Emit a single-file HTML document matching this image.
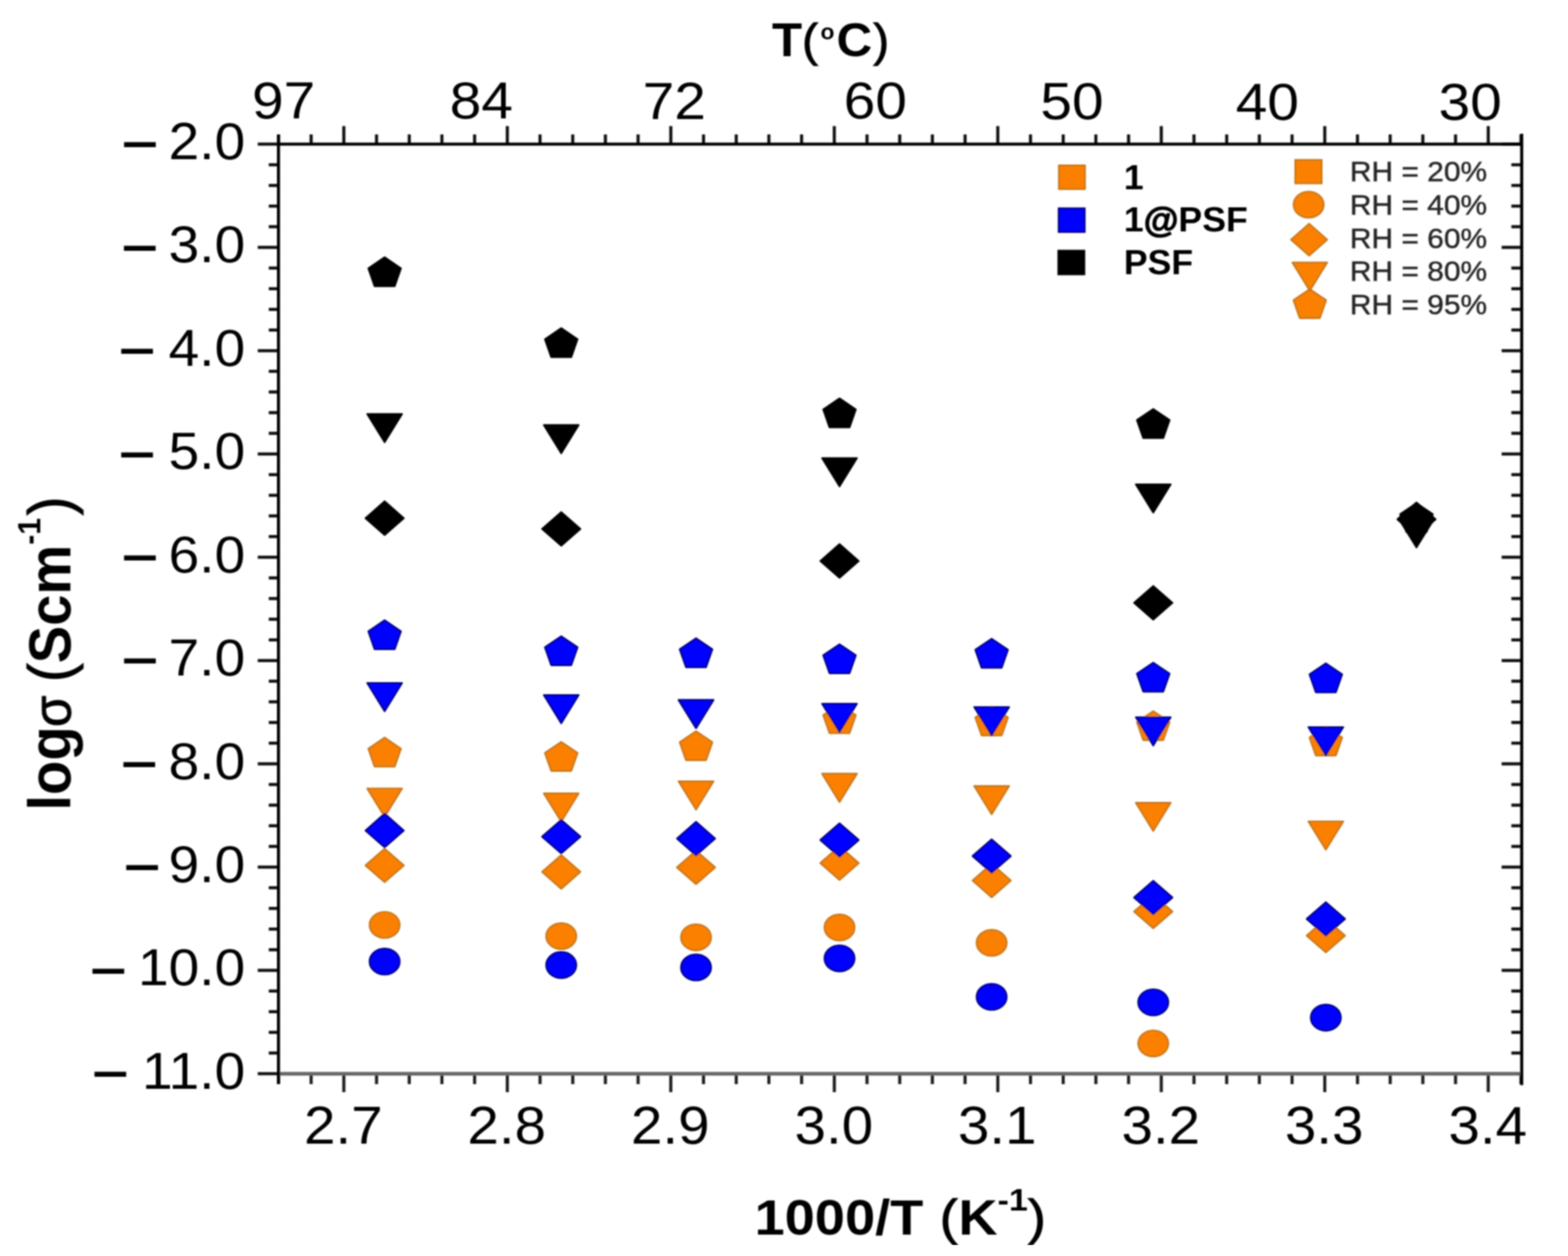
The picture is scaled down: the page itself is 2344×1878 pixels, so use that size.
<!DOCTYPE html>
<html><head><meta charset="utf-8"><title>Conductivity plot</title>
<style>html,body{margin:0;padding:0;background:#fff;width:2344px;height:1878px;overflow:hidden}svg{display:block}</style>
</head><body>
<svg width="2344" height="1878" viewBox="0 0 2344 1878">
<defs><filter id="bl" x="0" y="0" width="1" height="1"><feGaussianBlur stdDeviation="1.0"/></filter></defs>
<rect width="2344" height="1878" fill="#fff"/>
<g filter="url(#bl)">
<line x1="416.2" y1="1605.5" x2="416.2" y2="1621.0" stroke="#1a1a1a" stroke-width="4.6"/>
<line x1="416.2" y1="215.5" x2="416.2" y2="201.0" stroke="#111" stroke-width="4.6"/>
<line x1="465.1" y1="1605.5" x2="465.1" y2="1621.0" stroke="#1a1a1a" stroke-width="4.6"/>
<line x1="465.1" y1="215.5" x2="465.1" y2="201.0" stroke="#111" stroke-width="4.6"/>
<line x1="514.0" y1="1605.5" x2="514.0" y2="1633.0" stroke="#1a1a1a" stroke-width="4.6"/>
<line x1="514.0" y1="215.5" x2="514.0" y2="188.5" stroke="#111" stroke-width="4.6"/>
<line x1="562.9" y1="1605.5" x2="562.9" y2="1621.0" stroke="#1a1a1a" stroke-width="4.6"/>
<line x1="562.9" y1="215.5" x2="562.9" y2="201.0" stroke="#111" stroke-width="4.6"/>
<line x1="611.8" y1="1605.5" x2="611.8" y2="1621.0" stroke="#1a1a1a" stroke-width="4.6"/>
<line x1="611.8" y1="215.5" x2="611.8" y2="201.0" stroke="#111" stroke-width="4.6"/>
<line x1="660.6" y1="1605.5" x2="660.6" y2="1621.0" stroke="#1a1a1a" stroke-width="4.6"/>
<line x1="660.6" y1="215.5" x2="660.6" y2="201.0" stroke="#111" stroke-width="4.6"/>
<line x1="709.5" y1="1605.5" x2="709.5" y2="1621.0" stroke="#1a1a1a" stroke-width="4.6"/>
<line x1="709.5" y1="215.5" x2="709.5" y2="201.0" stroke="#111" stroke-width="4.6"/>
<line x1="758.4" y1="1605.5" x2="758.4" y2="1633.0" stroke="#1a1a1a" stroke-width="4.6"/>
<line x1="758.4" y1="215.5" x2="758.4" y2="188.5" stroke="#111" stroke-width="4.6"/>
<line x1="807.3" y1="1605.5" x2="807.3" y2="1621.0" stroke="#1a1a1a" stroke-width="4.6"/>
<line x1="807.3" y1="215.5" x2="807.3" y2="201.0" stroke="#111" stroke-width="4.6"/>
<line x1="856.2" y1="1605.5" x2="856.2" y2="1621.0" stroke="#1a1a1a" stroke-width="4.6"/>
<line x1="856.2" y1="215.5" x2="856.2" y2="201.0" stroke="#111" stroke-width="4.6"/>
<line x1="905.0" y1="1605.5" x2="905.0" y2="1621.0" stroke="#1a1a1a" stroke-width="4.6"/>
<line x1="905.0" y1="215.5" x2="905.0" y2="201.0" stroke="#111" stroke-width="4.6"/>
<line x1="953.9" y1="1605.5" x2="953.9" y2="1621.0" stroke="#1a1a1a" stroke-width="4.6"/>
<line x1="953.9" y1="215.5" x2="953.9" y2="201.0" stroke="#111" stroke-width="4.6"/>
<line x1="1002.8" y1="1605.5" x2="1002.8" y2="1633.0" stroke="#1a1a1a" stroke-width="4.6"/>
<line x1="1002.8" y1="215.5" x2="1002.8" y2="188.5" stroke="#111" stroke-width="4.6"/>
<line x1="1051.7" y1="1605.5" x2="1051.7" y2="1621.0" stroke="#1a1a1a" stroke-width="4.6"/>
<line x1="1051.7" y1="215.5" x2="1051.7" y2="201.0" stroke="#111" stroke-width="4.6"/>
<line x1="1100.6" y1="1605.5" x2="1100.6" y2="1621.0" stroke="#1a1a1a" stroke-width="4.6"/>
<line x1="1100.6" y1="215.5" x2="1100.6" y2="201.0" stroke="#111" stroke-width="4.6"/>
<line x1="1149.4" y1="1605.5" x2="1149.4" y2="1621.0" stroke="#1a1a1a" stroke-width="4.6"/>
<line x1="1149.4" y1="215.5" x2="1149.4" y2="201.0" stroke="#111" stroke-width="4.6"/>
<line x1="1198.3" y1="1605.5" x2="1198.3" y2="1621.0" stroke="#1a1a1a" stroke-width="4.6"/>
<line x1="1198.3" y1="215.5" x2="1198.3" y2="201.0" stroke="#111" stroke-width="4.6"/>
<line x1="1247.2" y1="1605.5" x2="1247.2" y2="1633.0" stroke="#1a1a1a" stroke-width="4.6"/>
<line x1="1247.2" y1="215.5" x2="1247.2" y2="188.5" stroke="#111" stroke-width="4.6"/>
<line x1="1296.1" y1="1605.5" x2="1296.1" y2="1621.0" stroke="#1a1a1a" stroke-width="4.6"/>
<line x1="1296.1" y1="215.5" x2="1296.1" y2="201.0" stroke="#111" stroke-width="4.6"/>
<line x1="1345.0" y1="1605.5" x2="1345.0" y2="1621.0" stroke="#1a1a1a" stroke-width="4.6"/>
<line x1="1345.0" y1="215.5" x2="1345.0" y2="201.0" stroke="#111" stroke-width="4.6"/>
<line x1="1393.8" y1="1605.5" x2="1393.8" y2="1621.0" stroke="#1a1a1a" stroke-width="4.6"/>
<line x1="1393.8" y1="215.5" x2="1393.8" y2="201.0" stroke="#111" stroke-width="4.6"/>
<line x1="1442.7" y1="1605.5" x2="1442.7" y2="1621.0" stroke="#1a1a1a" stroke-width="4.6"/>
<line x1="1442.7" y1="215.5" x2="1442.7" y2="201.0" stroke="#111" stroke-width="4.6"/>
<line x1="1491.6" y1="1605.5" x2="1491.6" y2="1633.0" stroke="#1a1a1a" stroke-width="4.6"/>
<line x1="1491.6" y1="215.5" x2="1491.6" y2="188.5" stroke="#111" stroke-width="4.6"/>
<line x1="1540.5" y1="1605.5" x2="1540.5" y2="1621.0" stroke="#1a1a1a" stroke-width="4.6"/>
<line x1="1540.5" y1="215.5" x2="1540.5" y2="201.0" stroke="#111" stroke-width="4.6"/>
<line x1="1589.4" y1="1605.5" x2="1589.4" y2="1621.0" stroke="#1a1a1a" stroke-width="4.6"/>
<line x1="1589.4" y1="215.5" x2="1589.4" y2="201.0" stroke="#111" stroke-width="4.6"/>
<line x1="1638.2" y1="1605.5" x2="1638.2" y2="1621.0" stroke="#1a1a1a" stroke-width="4.6"/>
<line x1="1638.2" y1="215.5" x2="1638.2" y2="201.0" stroke="#111" stroke-width="4.6"/>
<line x1="1687.1" y1="1605.5" x2="1687.1" y2="1621.0" stroke="#1a1a1a" stroke-width="4.6"/>
<line x1="1687.1" y1="215.5" x2="1687.1" y2="201.0" stroke="#111" stroke-width="4.6"/>
<line x1="1736.0" y1="1605.5" x2="1736.0" y2="1633.0" stroke="#1a1a1a" stroke-width="4.6"/>
<line x1="1736.0" y1="215.5" x2="1736.0" y2="188.5" stroke="#111" stroke-width="4.6"/>
<line x1="1784.9" y1="1605.5" x2="1784.9" y2="1621.0" stroke="#1a1a1a" stroke-width="4.6"/>
<line x1="1784.9" y1="215.5" x2="1784.9" y2="201.0" stroke="#111" stroke-width="4.6"/>
<line x1="1833.8" y1="1605.5" x2="1833.8" y2="1621.0" stroke="#1a1a1a" stroke-width="4.6"/>
<line x1="1833.8" y1="215.5" x2="1833.8" y2="201.0" stroke="#111" stroke-width="4.6"/>
<line x1="1882.6" y1="1605.5" x2="1882.6" y2="1621.0" stroke="#1a1a1a" stroke-width="4.6"/>
<line x1="1882.6" y1="215.5" x2="1882.6" y2="201.0" stroke="#111" stroke-width="4.6"/>
<line x1="1931.5" y1="1605.5" x2="1931.5" y2="1621.0" stroke="#1a1a1a" stroke-width="4.6"/>
<line x1="1931.5" y1="215.5" x2="1931.5" y2="201.0" stroke="#111" stroke-width="4.6"/>
<line x1="1980.4" y1="1605.5" x2="1980.4" y2="1633.0" stroke="#1a1a1a" stroke-width="4.6"/>
<line x1="1980.4" y1="215.5" x2="1980.4" y2="188.5" stroke="#111" stroke-width="4.6"/>
<line x1="2029.3" y1="1605.5" x2="2029.3" y2="1621.0" stroke="#1a1a1a" stroke-width="4.6"/>
<line x1="2029.3" y1="215.5" x2="2029.3" y2="201.0" stroke="#111" stroke-width="4.6"/>
<line x1="2078.2" y1="1605.5" x2="2078.2" y2="1621.0" stroke="#1a1a1a" stroke-width="4.6"/>
<line x1="2078.2" y1="215.5" x2="2078.2" y2="201.0" stroke="#111" stroke-width="4.6"/>
<line x1="2127.0" y1="1605.5" x2="2127.0" y2="1621.0" stroke="#1a1a1a" stroke-width="4.6"/>
<line x1="2127.0" y1="215.5" x2="2127.0" y2="201.0" stroke="#111" stroke-width="4.6"/>
<line x1="2175.9" y1="1605.5" x2="2175.9" y2="1621.0" stroke="#1a1a1a" stroke-width="4.6"/>
<line x1="2175.9" y1="215.5" x2="2175.9" y2="201.0" stroke="#111" stroke-width="4.6"/>
<line x1="2224.8" y1="1605.5" x2="2224.8" y2="1633.0" stroke="#1a1a1a" stroke-width="4.6"/>
<line x1="2224.8" y1="215.5" x2="2224.8" y2="188.5" stroke="#111" stroke-width="4.6"/>
<line x1="2273.7" y1="1605.5" x2="2273.7" y2="1621.0" stroke="#1a1a1a" stroke-width="4.6"/>
<line x1="2273.7" y1="215.5" x2="2273.7" y2="201.0" stroke="#111" stroke-width="4.6"/>
<line x1="416.3" y1="215.5" x2="385.3" y2="215.5" stroke="#111" stroke-width="4.6"/>
<line x1="2274.8" y1="215.5" x2="2244.8" y2="215.5" stroke="#111" stroke-width="4.6"/>
<line x1="416.3" y1="246.4" x2="401.8" y2="246.4" stroke="#111" stroke-width="4.6"/>
<line x1="2274.8" y1="246.4" x2="2259.3" y2="246.4" stroke="#111" stroke-width="4.6"/>
<line x1="416.3" y1="277.3" x2="401.8" y2="277.3" stroke="#111" stroke-width="4.6"/>
<line x1="2274.8" y1="277.3" x2="2259.3" y2="277.3" stroke="#111" stroke-width="4.6"/>
<line x1="416.3" y1="308.2" x2="401.8" y2="308.2" stroke="#111" stroke-width="4.6"/>
<line x1="2274.8" y1="308.2" x2="2259.3" y2="308.2" stroke="#111" stroke-width="4.6"/>
<line x1="416.3" y1="339.0" x2="401.8" y2="339.0" stroke="#111" stroke-width="4.6"/>
<line x1="2274.8" y1="339.0" x2="2259.3" y2="339.0" stroke="#111" stroke-width="4.6"/>
<line x1="416.3" y1="369.9" x2="385.3" y2="369.9" stroke="#111" stroke-width="4.6"/>
<line x1="2274.8" y1="369.9" x2="2244.8" y2="369.9" stroke="#111" stroke-width="4.6"/>
<line x1="416.3" y1="400.8" x2="401.8" y2="400.8" stroke="#111" stroke-width="4.6"/>
<line x1="2274.8" y1="400.8" x2="2259.3" y2="400.8" stroke="#111" stroke-width="4.6"/>
<line x1="416.3" y1="431.7" x2="401.8" y2="431.7" stroke="#111" stroke-width="4.6"/>
<line x1="2274.8" y1="431.7" x2="2259.3" y2="431.7" stroke="#111" stroke-width="4.6"/>
<line x1="416.3" y1="462.6" x2="401.8" y2="462.6" stroke="#111" stroke-width="4.6"/>
<line x1="2274.8" y1="462.6" x2="2259.3" y2="462.6" stroke="#111" stroke-width="4.6"/>
<line x1="416.3" y1="493.5" x2="401.8" y2="493.5" stroke="#111" stroke-width="4.6"/>
<line x1="2274.8" y1="493.5" x2="2259.3" y2="493.5" stroke="#111" stroke-width="4.6"/>
<line x1="416.3" y1="524.4" x2="385.3" y2="524.4" stroke="#111" stroke-width="4.6"/>
<line x1="2274.8" y1="524.4" x2="2244.8" y2="524.4" stroke="#111" stroke-width="4.6"/>
<line x1="416.3" y1="555.2" x2="401.8" y2="555.2" stroke="#111" stroke-width="4.6"/>
<line x1="2274.8" y1="555.2" x2="2259.3" y2="555.2" stroke="#111" stroke-width="4.6"/>
<line x1="416.3" y1="586.1" x2="401.8" y2="586.1" stroke="#111" stroke-width="4.6"/>
<line x1="2274.8" y1="586.1" x2="2259.3" y2="586.1" stroke="#111" stroke-width="4.6"/>
<line x1="416.3" y1="617.0" x2="401.8" y2="617.0" stroke="#111" stroke-width="4.6"/>
<line x1="2274.8" y1="617.0" x2="2259.3" y2="617.0" stroke="#111" stroke-width="4.6"/>
<line x1="416.3" y1="647.9" x2="401.8" y2="647.9" stroke="#111" stroke-width="4.6"/>
<line x1="2274.8" y1="647.9" x2="2259.3" y2="647.9" stroke="#111" stroke-width="4.6"/>
<line x1="416.3" y1="678.8" x2="385.3" y2="678.8" stroke="#111" stroke-width="4.6"/>
<line x1="2274.8" y1="678.8" x2="2244.8" y2="678.8" stroke="#111" stroke-width="4.6"/>
<line x1="416.3" y1="709.7" x2="401.8" y2="709.7" stroke="#111" stroke-width="4.6"/>
<line x1="2274.8" y1="709.7" x2="2259.3" y2="709.7" stroke="#111" stroke-width="4.6"/>
<line x1="416.3" y1="740.6" x2="401.8" y2="740.6" stroke="#111" stroke-width="4.6"/>
<line x1="2274.8" y1="740.6" x2="2259.3" y2="740.6" stroke="#111" stroke-width="4.6"/>
<line x1="416.3" y1="771.4" x2="401.8" y2="771.4" stroke="#111" stroke-width="4.6"/>
<line x1="2274.8" y1="771.4" x2="2259.3" y2="771.4" stroke="#111" stroke-width="4.6"/>
<line x1="416.3" y1="802.3" x2="401.8" y2="802.3" stroke="#111" stroke-width="4.6"/>
<line x1="2274.8" y1="802.3" x2="2259.3" y2="802.3" stroke="#111" stroke-width="4.6"/>
<line x1="416.3" y1="833.2" x2="385.3" y2="833.2" stroke="#111" stroke-width="4.6"/>
<line x1="2274.8" y1="833.2" x2="2244.8" y2="833.2" stroke="#111" stroke-width="4.6"/>
<line x1="416.3" y1="864.1" x2="401.8" y2="864.1" stroke="#111" stroke-width="4.6"/>
<line x1="2274.8" y1="864.1" x2="2259.3" y2="864.1" stroke="#111" stroke-width="4.6"/>
<line x1="416.3" y1="895.0" x2="401.8" y2="895.0" stroke="#111" stroke-width="4.6"/>
<line x1="2274.8" y1="895.0" x2="2259.3" y2="895.0" stroke="#111" stroke-width="4.6"/>
<line x1="416.3" y1="925.9" x2="401.8" y2="925.9" stroke="#111" stroke-width="4.6"/>
<line x1="2274.8" y1="925.9" x2="2259.3" y2="925.9" stroke="#111" stroke-width="4.6"/>
<line x1="416.3" y1="956.8" x2="401.8" y2="956.8" stroke="#111" stroke-width="4.6"/>
<line x1="2274.8" y1="956.8" x2="2259.3" y2="956.8" stroke="#111" stroke-width="4.6"/>
<line x1="416.3" y1="987.7" x2="385.3" y2="987.7" stroke="#111" stroke-width="4.6"/>
<line x1="2274.8" y1="987.7" x2="2244.8" y2="987.7" stroke="#111" stroke-width="4.6"/>
<line x1="416.3" y1="1018.5" x2="401.8" y2="1018.5" stroke="#111" stroke-width="4.6"/>
<line x1="2274.8" y1="1018.5" x2="2259.3" y2="1018.5" stroke="#111" stroke-width="4.6"/>
<line x1="416.3" y1="1049.4" x2="401.8" y2="1049.4" stroke="#111" stroke-width="4.6"/>
<line x1="2274.8" y1="1049.4" x2="2259.3" y2="1049.4" stroke="#111" stroke-width="4.6"/>
<line x1="416.3" y1="1080.3" x2="401.8" y2="1080.3" stroke="#111" stroke-width="4.6"/>
<line x1="2274.8" y1="1080.3" x2="2259.3" y2="1080.3" stroke="#111" stroke-width="4.6"/>
<line x1="416.3" y1="1111.2" x2="401.8" y2="1111.2" stroke="#111" stroke-width="4.6"/>
<line x1="2274.8" y1="1111.2" x2="2259.3" y2="1111.2" stroke="#111" stroke-width="4.6"/>
<line x1="416.3" y1="1142.1" x2="385.3" y2="1142.1" stroke="#111" stroke-width="4.6"/>
<line x1="2274.8" y1="1142.1" x2="2244.8" y2="1142.1" stroke="#111" stroke-width="4.6"/>
<line x1="416.3" y1="1173.0" x2="401.8" y2="1173.0" stroke="#111" stroke-width="4.6"/>
<line x1="2274.8" y1="1173.0" x2="2259.3" y2="1173.0" stroke="#111" stroke-width="4.6"/>
<line x1="416.3" y1="1203.9" x2="401.8" y2="1203.9" stroke="#111" stroke-width="4.6"/>
<line x1="2274.8" y1="1203.9" x2="2259.3" y2="1203.9" stroke="#111" stroke-width="4.6"/>
<line x1="416.3" y1="1234.7" x2="401.8" y2="1234.7" stroke="#111" stroke-width="4.6"/>
<line x1="2274.8" y1="1234.7" x2="2259.3" y2="1234.7" stroke="#111" stroke-width="4.6"/>
<line x1="416.3" y1="1265.6" x2="401.8" y2="1265.6" stroke="#111" stroke-width="4.6"/>
<line x1="2274.8" y1="1265.6" x2="2259.3" y2="1265.6" stroke="#111" stroke-width="4.6"/>
<line x1="416.3" y1="1296.5" x2="385.3" y2="1296.5" stroke="#111" stroke-width="4.6"/>
<line x1="2274.8" y1="1296.5" x2="2244.8" y2="1296.5" stroke="#111" stroke-width="4.6"/>
<line x1="416.3" y1="1327.4" x2="401.8" y2="1327.4" stroke="#111" stroke-width="4.6"/>
<line x1="2274.8" y1="1327.4" x2="2259.3" y2="1327.4" stroke="#111" stroke-width="4.6"/>
<line x1="416.3" y1="1358.3" x2="401.8" y2="1358.3" stroke="#111" stroke-width="4.6"/>
<line x1="2274.8" y1="1358.3" x2="2259.3" y2="1358.3" stroke="#111" stroke-width="4.6"/>
<line x1="416.3" y1="1389.2" x2="401.8" y2="1389.2" stroke="#111" stroke-width="4.6"/>
<line x1="2274.8" y1="1389.2" x2="2259.3" y2="1389.2" stroke="#111" stroke-width="4.6"/>
<line x1="416.3" y1="1420.1" x2="401.8" y2="1420.1" stroke="#111" stroke-width="4.6"/>
<line x1="2274.8" y1="1420.1" x2="2259.3" y2="1420.1" stroke="#111" stroke-width="4.6"/>
<line x1="416.3" y1="1450.9" x2="385.3" y2="1450.9" stroke="#111" stroke-width="4.6"/>
<line x1="2274.8" y1="1450.9" x2="2244.8" y2="1450.9" stroke="#111" stroke-width="4.6"/>
<line x1="416.3" y1="1481.8" x2="401.8" y2="1481.8" stroke="#111" stroke-width="4.6"/>
<line x1="2274.8" y1="1481.8" x2="2259.3" y2="1481.8" stroke="#111" stroke-width="4.6"/>
<line x1="416.3" y1="1512.7" x2="401.8" y2="1512.7" stroke="#111" stroke-width="4.6"/>
<line x1="2274.8" y1="1512.7" x2="2259.3" y2="1512.7" stroke="#111" stroke-width="4.6"/>
<line x1="416.3" y1="1543.6" x2="401.8" y2="1543.6" stroke="#111" stroke-width="4.6"/>
<line x1="2274.8" y1="1543.6" x2="2259.3" y2="1543.6" stroke="#111" stroke-width="4.6"/>
<line x1="416.3" y1="1574.5" x2="401.8" y2="1574.5" stroke="#111" stroke-width="4.6"/>
<line x1="2274.8" y1="1574.5" x2="2259.3" y2="1574.5" stroke="#111" stroke-width="4.6"/>
<line x1="416.3" y1="1605.4" x2="385.3" y2="1605.4" stroke="#111" stroke-width="4.6"/>
<line x1="2274.8" y1="1605.4" x2="2244.8" y2="1605.4" stroke="#111" stroke-width="4.6"/>
<line x1="416.3" y1="215.5" x2="2274.8" y2="215.5" stroke="#000" stroke-width="4.6"/>
<line x1="416.3" y1="1605.5" x2="2274.8" y2="1605.5" stroke="#666" stroke-width="5.5"/>
<line x1="416.3" y1="201.0" x2="416.3" y2="1621.0" stroke="#000" stroke-width="4.6"/>
<line x1="2274.8" y1="200.0" x2="2274.8" y2="1622.5" stroke="#000" stroke-width="4.6"/>
<polygon points="575.0,1102.8 599.5,1119.4 590.1,1146.3 559.9,1146.3 550.5,1119.4" fill="#fb8004" stroke="#c4761c" stroke-width="2.4" stroke-linejoin="round"/>
<polygon points="548.8,1178.9 601.2,1178.9 575.0,1221.4" fill="#fb8004" stroke="#c4761c" stroke-width="2.4" stroke-linejoin="round"/>
<polygon points="575.0,1268.8 603.8,1294.0 575.0,1319.2 546.2,1294.0" fill="#fb8004" stroke="#c4761c" stroke-width="2.4" stroke-linejoin="round"/>
<ellipse cx="575.0" cy="1383.0" rx="22.6" ry="19.6" fill="#fb8004" stroke="#c4761c" stroke-width="2.4"/>
<polygon points="839.0,1109.2 863.5,1125.8 854.1,1152.7 823.9,1152.7 814.5,1125.8" fill="#fb8004" stroke="#c4761c" stroke-width="2.4" stroke-linejoin="round"/>
<polygon points="812.8,1186.2 865.2,1186.2 839.0,1228.7" fill="#fb8004" stroke="#c4761c" stroke-width="2.4" stroke-linejoin="round"/>
<polygon points="839.0,1278.5 867.8,1303.7 839.0,1329.0 810.2,1303.7" fill="#fb8004" stroke="#c4761c" stroke-width="2.4" stroke-linejoin="round"/>
<ellipse cx="839.0" cy="1399.8" rx="22.6" ry="19.6" fill="#fb8004" stroke="#c4761c" stroke-width="2.4"/>
<polygon points="1040.5,1093.2 1065.0,1109.8 1055.6,1136.7 1025.4,1136.7 1016.0,1109.8" fill="#fb8004" stroke="#c4761c" stroke-width="2.4" stroke-linejoin="round"/>
<polygon points="1014.2,1168.2 1066.8,1168.2 1040.5,1210.7" fill="#fb8004" stroke="#c4761c" stroke-width="2.4" stroke-linejoin="round"/>
<polygon points="1040.5,1271.8 1069.2,1297.0 1040.5,1322.2 1011.8,1297.0" fill="#fb8004" stroke="#c4761c" stroke-width="2.4" stroke-linejoin="round"/>
<ellipse cx="1040.5" cy="1401.6" rx="22.6" ry="19.6" fill="#fb8004" stroke="#c4761c" stroke-width="2.4"/>
<polygon points="1255.0,1052.7 1279.5,1069.3 1270.1,1096.2 1239.9,1096.2 1230.5,1069.3" fill="#fb8004" stroke="#c4761c" stroke-width="2.4" stroke-linejoin="round"/>
<polygon points="1228.8,1156.8 1281.2,1156.8 1255.0,1199.3" fill="#fb8004" stroke="#c4761c" stroke-width="2.4" stroke-linejoin="round"/>
<polygon points="1255.0,1265.2 1283.8,1290.5 1255.0,1315.8 1226.2,1290.5" fill="#fb8004" stroke="#c4761c" stroke-width="2.4" stroke-linejoin="round"/>
<ellipse cx="1255.0" cy="1386.8" rx="22.6" ry="19.6" fill="#fb8004" stroke="#c4761c" stroke-width="2.4"/>
<polygon points="1482.4,1056.2 1506.9,1072.8 1497.5,1099.7 1467.3,1099.7 1457.9,1072.8" fill="#fb8004" stroke="#c4761c" stroke-width="2.4" stroke-linejoin="round"/>
<polygon points="1456.2,1175.2 1508.7,1175.2 1482.4,1217.7" fill="#fb8004" stroke="#c4761c" stroke-width="2.4" stroke-linejoin="round"/>
<polygon points="1482.4,1291.3 1511.2,1316.6 1482.4,1341.8 1453.7,1316.6" fill="#fb8004" stroke="#c4761c" stroke-width="2.4" stroke-linejoin="round"/>
<ellipse cx="1482.4" cy="1409.8" rx="22.6" ry="19.6" fill="#fb8004" stroke="#c4761c" stroke-width="2.4"/>
<polygon points="1724.0,1063.2 1748.5,1079.8 1739.1,1106.7 1708.9,1106.7 1699.5,1079.8" fill="#fb8004" stroke="#c4761c" stroke-width="2.4" stroke-linejoin="round"/>
<polygon points="1697.8,1200.2 1750.2,1200.2 1724.0,1242.7" fill="#fb8004" stroke="#c4761c" stroke-width="2.4" stroke-linejoin="round"/>
<polygon points="1724.0,1337.8 1752.8,1363.0 1724.0,1388.2 1695.2,1363.0" fill="#fb8004" stroke="#c4761c" stroke-width="2.4" stroke-linejoin="round"/>
<ellipse cx="1724.0" cy="1560.2" rx="22.6" ry="19.6" fill="#fb8004" stroke="#c4761c" stroke-width="2.4"/>
<polygon points="1982.0,1086.2 2006.5,1102.8 1997.1,1129.7 1966.9,1129.7 1957.5,1102.8" fill="#fb8004" stroke="#c4761c" stroke-width="2.4" stroke-linejoin="round"/>
<polygon points="1955.8,1228.1 2008.2,1228.1 1982.0,1270.6" fill="#fb8004" stroke="#c4761c" stroke-width="2.4" stroke-linejoin="round"/>
<polygon points="1982.0,1373.8 2010.8,1399.0 1982.0,1424.2 1953.2,1399.0" fill="#fb8004" stroke="#c4761c" stroke-width="2.4" stroke-linejoin="round"/>
<polygon points="575.0,927.3 599.5,943.9 590.1,970.8 559.9,970.8 550.5,943.9" fill="#0000ff" stroke="#00007a" stroke-width="2.4" stroke-linejoin="round"/>
<polygon points="548.8,1021.1 601.2,1021.1 575.0,1063.6" fill="#0000ff" stroke="#00007a" stroke-width="2.4" stroke-linejoin="round"/>
<polygon points="575.0,1216.5 603.8,1241.8 575.0,1267.0 546.2,1241.8" fill="#0000ff" stroke="#00007a" stroke-width="2.4" stroke-linejoin="round"/>
<ellipse cx="575.0" cy="1437.8" rx="22.6" ry="19.6" fill="#0000ff" stroke="#00007a" stroke-width="2.4"/>
<polygon points="839.0,951.2 863.5,967.8 854.1,994.7 823.9,994.7 814.5,967.8" fill="#0000ff" stroke="#00007a" stroke-width="2.4" stroke-linejoin="round"/>
<polygon points="812.8,1039.2 865.2,1039.2 839.0,1081.7" fill="#0000ff" stroke="#00007a" stroke-width="2.4" stroke-linejoin="round"/>
<polygon points="839.0,1225.8 867.8,1251.0 839.0,1276.2 810.2,1251.0" fill="#0000ff" stroke="#00007a" stroke-width="2.4" stroke-linejoin="round"/>
<ellipse cx="839.0" cy="1442.9" rx="22.6" ry="19.6" fill="#0000ff" stroke="#00007a" stroke-width="2.4"/>
<polygon points="1040.5,954.2 1065.0,970.8 1055.6,997.7 1025.4,997.7 1016.0,970.8" fill="#0000ff" stroke="#00007a" stroke-width="2.4" stroke-linejoin="round"/>
<polygon points="1014.2,1046.5 1066.8,1046.5 1040.5,1089.0" fill="#0000ff" stroke="#00007a" stroke-width="2.4" stroke-linejoin="round"/>
<polygon points="1040.5,1228.7 1069.2,1253.9 1040.5,1279.2 1011.8,1253.9" fill="#0000ff" stroke="#00007a" stroke-width="2.4" stroke-linejoin="round"/>
<ellipse cx="1040.5" cy="1446.5" rx="22.6" ry="19.6" fill="#0000ff" stroke="#00007a" stroke-width="2.4"/>
<polygon points="1255.0,963.2 1279.5,979.8 1270.1,1006.7 1239.9,1006.7 1230.5,979.8" fill="#0000ff" stroke="#00007a" stroke-width="2.4" stroke-linejoin="round"/>
<polygon points="1228.8,1052.2 1281.2,1052.2 1255.0,1094.7" fill="#0000ff" stroke="#00007a" stroke-width="2.4" stroke-linejoin="round"/>
<polygon points="1255.0,1230.8 1283.8,1256.0 1255.0,1281.2 1226.2,1256.0" fill="#0000ff" stroke="#00007a" stroke-width="2.4" stroke-linejoin="round"/>
<ellipse cx="1255.0" cy="1433.0" rx="22.6" ry="19.6" fill="#0000ff" stroke="#00007a" stroke-width="2.4"/>
<polygon points="1482.4,955.0 1506.9,971.6 1497.5,998.5 1467.3,998.5 1457.9,971.6" fill="#0000ff" stroke="#00007a" stroke-width="2.4" stroke-linejoin="round"/>
<polygon points="1456.2,1057.1 1508.7,1057.1 1482.4,1099.6" fill="#0000ff" stroke="#00007a" stroke-width="2.4" stroke-linejoin="round"/>
<polygon points="1482.4,1254.8 1511.2,1280.0 1482.4,1305.2 1453.7,1280.0" fill="#0000ff" stroke="#00007a" stroke-width="2.4" stroke-linejoin="round"/>
<ellipse cx="1482.4" cy="1490.5" rx="22.6" ry="19.6" fill="#0000ff" stroke="#00007a" stroke-width="2.4"/>
<polygon points="1724.0,990.7 1748.5,1007.3 1739.1,1034.2 1708.9,1034.2 1699.5,1007.3" fill="#0000ff" stroke="#00007a" stroke-width="2.4" stroke-linejoin="round"/>
<polygon points="1697.8,1072.4 1750.2,1072.4 1724.0,1114.9" fill="#0000ff" stroke="#00007a" stroke-width="2.4" stroke-linejoin="round"/>
<polygon points="1724.0,1316.8 1752.8,1342.0 1724.0,1367.2 1695.2,1342.0" fill="#0000ff" stroke="#00007a" stroke-width="2.4" stroke-linejoin="round"/>
<ellipse cx="1724.0" cy="1498.7" rx="22.6" ry="19.6" fill="#0000ff" stroke="#00007a" stroke-width="2.4"/>
<polygon points="1982.0,991.7 2006.5,1008.3 1997.1,1035.2 1966.9,1035.2 1957.5,1008.3" fill="#0000ff" stroke="#00007a" stroke-width="2.4" stroke-linejoin="round"/>
<polygon points="1955.8,1087.2 2008.2,1087.2 1982.0,1129.7" fill="#0000ff" stroke="#00007a" stroke-width="2.4" stroke-linejoin="round"/>
<polygon points="1982.0,1348.8 2010.8,1374.0 1982.0,1399.2 1953.2,1374.0" fill="#0000ff" stroke="#00007a" stroke-width="2.4" stroke-linejoin="round"/>
<ellipse cx="1982.0" cy="1521.6" rx="22.6" ry="19.6" fill="#0000ff" stroke="#00007a" stroke-width="2.4"/>
<polygon points="575.0,384.6 599.5,401.2 590.1,428.1 559.9,428.1 550.5,401.2" fill="#000000" stroke="#000000" stroke-width="2.4" stroke-linejoin="round"/>
<polygon points="548.8,618.9 601.2,618.9 575.0,661.4" fill="#000000" stroke="#000000" stroke-width="2.4" stroke-linejoin="round"/>
<polygon points="575.0,749.5 603.8,774.8 575.0,800.0 546.2,774.8" fill="#000000" stroke="#000000" stroke-width="2.4" stroke-linejoin="round"/>
<polygon points="839.0,490.6 863.5,507.2 854.1,534.1 823.9,534.1 814.5,507.2" fill="#000000" stroke="#000000" stroke-width="2.4" stroke-linejoin="round"/>
<polygon points="812.8,635.4 865.2,635.4 839.0,677.9" fill="#000000" stroke="#000000" stroke-width="2.4" stroke-linejoin="round"/>
<polygon points="839.0,765.6 867.8,790.9 839.0,816.1 810.2,790.9" fill="#000000" stroke="#000000" stroke-width="2.4" stroke-linejoin="round"/>
<polygon points="1255.0,595.6 1279.5,612.2 1270.1,639.1 1239.9,639.1 1230.5,612.2" fill="#000000" stroke="#000000" stroke-width="2.4" stroke-linejoin="round"/>
<polygon points="1228.8,684.9 1281.2,684.9 1255.0,727.4" fill="#000000" stroke="#000000" stroke-width="2.4" stroke-linejoin="round"/>
<polygon points="1255.0,813.5 1283.8,838.8 1255.0,864.0 1226.2,838.8" fill="#000000" stroke="#000000" stroke-width="2.4" stroke-linejoin="round"/>
<polygon points="1724.0,611.5 1748.5,628.1 1739.1,655.0 1708.9,655.0 1699.5,628.1" fill="#000000" stroke="#000000" stroke-width="2.4" stroke-linejoin="round"/>
<polygon points="1697.8,724.1 1750.2,724.1 1724.0,766.6" fill="#000000" stroke="#000000" stroke-width="2.4" stroke-linejoin="round"/>
<polygon points="1724.0,876.1 1752.8,901.4 1724.0,926.6 1695.2,901.4" fill="#000000" stroke="#000000" stroke-width="2.4" stroke-linejoin="round"/>
<polygon points="2117.5,752.2 2142.0,768.8 2132.6,795.7 2102.4,795.7 2093.0,768.8" fill="#000000" stroke="#000000" stroke-width="2.4" stroke-linejoin="round"/>
<polygon points="2117.5,751.2 2146.2,776.5 2117.5,801.8 2088.8,776.5" fill="#000000" stroke="#000000" stroke-width="2.4" stroke-linejoin="round"/>
<polygon points="2091.2,776.2 2143.8,776.2 2117.5,818.7" fill="#000000" stroke="#000000" stroke-width="2.4" stroke-linejoin="round"/>
<rect x="1582.9" y="247.2" width="39.1" height="35.6" fill="#fb8004" stroke="#c4761c" stroke-width="2.4"/>
<rect x="1582.5" y="311.4" width="39.1" height="35.6" fill="#0000ff" stroke="#00007a" stroke-width="2.4"/>
<rect x="1582.0" y="374.7" width="39.1" height="35.6" fill="#000000" stroke="#000000" stroke-width="2.4"/>
<rect x="1936.2" y="239.1" width="39.6" height="35.1" fill="#fb8004" stroke="#c4761c" stroke-width="2.4"/>
<ellipse cx="1956.3" cy="306.0" rx="22.6" ry="19.6" fill="#fb8004" stroke="#c4761c" stroke-width="2.4"/>
<polygon points="1957.0,334.3 1984.2,358.3 1957.0,382.3 1929.8,358.3" fill="#fb8004" stroke="#c4761c" stroke-width="2.4" stroke-linejoin="round"/>
<polygon points="1958.0,432.2 1982.5,448.8 1973.1,475.7 1942.9,475.7 1933.5,448.8" fill="#fb8004" stroke="#c4761c" stroke-width="2.4" stroke-linejoin="round"/>
<polygon points="1931.8,392.4 1984.2,392.4 1958.0,434.9" fill="#fb8004" stroke="#c4761c" stroke-width="2.4" stroke-linejoin="round"/>
<text transform="translate(366.5,238.0) scale(1.07,1)" font-family="Liberation Sans, Arial, sans-serif" font-size="77" font-weight="normal" text-anchor="end" fill="#000" >2.0</text>
<text transform="translate(180.7,251.2) scale(0.93,1)" font-family="Liberation Sans, Arial, sans-serif" font-size="105" font-weight="normal" text-anchor="start" fill="#000" >&#8722;</text>
<text transform="translate(366.5,392.4) scale(1.07,1)" font-family="Liberation Sans, Arial, sans-serif" font-size="77" font-weight="normal" text-anchor="end" fill="#000" >3.0</text>
<text transform="translate(180.6,405.6) scale(0.93,1)" font-family="Liberation Sans, Arial, sans-serif" font-size="105" font-weight="normal" text-anchor="start" fill="#000" >&#8722;</text>
<text transform="translate(366.5,546.9) scale(1.07,1)" font-family="Liberation Sans, Arial, sans-serif" font-size="77" font-weight="normal" text-anchor="end" fill="#000" >4.0</text>
<text transform="translate(176.6,560.1) scale(0.93,1)" font-family="Liberation Sans, Arial, sans-serif" font-size="105" font-weight="normal" text-anchor="start" fill="#000" >&#8722;</text>
<text transform="translate(366.5,701.3) scale(1.07,1)" font-family="Liberation Sans, Arial, sans-serif" font-size="77" font-weight="normal" text-anchor="end" fill="#000" >5.0</text>
<text transform="translate(176.6,714.5) scale(0.93,1)" font-family="Liberation Sans, Arial, sans-serif" font-size="105" font-weight="normal" text-anchor="start" fill="#000" >&#8722;</text>
<text transform="translate(366.5,855.7) scale(1.07,1)" font-family="Liberation Sans, Arial, sans-serif" font-size="77" font-weight="normal" text-anchor="end" fill="#000" >6.0</text>
<text transform="translate(180.8,868.9) scale(0.93,1)" font-family="Liberation Sans, Arial, sans-serif" font-size="105" font-weight="normal" text-anchor="start" fill="#000" >&#8722;</text>
<text transform="translate(366.5,1010.2) scale(1.07,1)" font-family="Liberation Sans, Arial, sans-serif" font-size="77" font-weight="normal" text-anchor="end" fill="#000" >7.0</text>
<text transform="translate(180.8,1023.4) scale(0.93,1)" font-family="Liberation Sans, Arial, sans-serif" font-size="105" font-weight="normal" text-anchor="start" fill="#000" >&#8722;</text>
<text transform="translate(366.5,1164.6) scale(1.07,1)" font-family="Liberation Sans, Arial, sans-serif" font-size="77" font-weight="normal" text-anchor="end" fill="#000" >8.0</text>
<text transform="translate(179.8,1177.8) scale(0.93,1)" font-family="Liberation Sans, Arial, sans-serif" font-size="105" font-weight="normal" text-anchor="start" fill="#000" >&#8722;</text>
<text transform="translate(366.5,1319.0) scale(1.07,1)" font-family="Liberation Sans, Arial, sans-serif" font-size="77" font-weight="normal" text-anchor="end" fill="#000" >9.0</text>
<text transform="translate(184.1,1332.2) scale(0.93,1)" font-family="Liberation Sans, Arial, sans-serif" font-size="105" font-weight="normal" text-anchor="start" fill="#000" >&#8722;</text>
<text transform="translate(366.5,1473.4) scale(1.07,1)" font-family="Liberation Sans, Arial, sans-serif" font-size="77" font-weight="normal" text-anchor="end" fill="#000" >10.0</text>
<text transform="translate(133.6,1486.6) scale(0.93,1)" font-family="Liberation Sans, Arial, sans-serif" font-size="105" font-weight="normal" text-anchor="start" fill="#000" >&#8722;</text>
<text transform="translate(366.5,1627.9) scale(1.07,1)" font-family="Liberation Sans, Arial, sans-serif" font-size="77" font-weight="normal" text-anchor="end" fill="#000" >11.0</text>
<text transform="translate(136.6,1641.1) scale(0.93,1)" font-family="Liberation Sans, Arial, sans-serif" font-size="105" font-weight="normal" text-anchor="start" fill="#000" >&#8722;</text>
<text transform="translate(513.2,1709.5) scale(1.07,1)" font-family="Liberation Sans, Arial, sans-serif" font-size="79" font-weight="normal" text-anchor="middle" fill="#000" >2.7</text>
<text transform="translate(757.6,1709.5) scale(1.07,1)" font-family="Liberation Sans, Arial, sans-serif" font-size="79" font-weight="normal" text-anchor="middle" fill="#000" >2.8</text>
<text transform="translate(1002.0,1709.5) scale(1.07,1)" font-family="Liberation Sans, Arial, sans-serif" font-size="79" font-weight="normal" text-anchor="middle" fill="#000" >2.9</text>
<text transform="translate(1246.4,1709.5) scale(1.07,1)" font-family="Liberation Sans, Arial, sans-serif" font-size="79" font-weight="normal" text-anchor="middle" fill="#000" >3.0</text>
<text transform="translate(1490.8,1709.5) scale(1.07,1)" font-family="Liberation Sans, Arial, sans-serif" font-size="79" font-weight="normal" text-anchor="middle" fill="#000" >3.1</text>
<text transform="translate(1735.2,1709.5) scale(1.07,1)" font-family="Liberation Sans, Arial, sans-serif" font-size="79" font-weight="normal" text-anchor="middle" fill="#000" >3.2</text>
<text transform="translate(1979.6,1709.5) scale(1.07,1)" font-family="Liberation Sans, Arial, sans-serif" font-size="79" font-weight="normal" text-anchor="middle" fill="#000" >3.3</text>
<text transform="translate(2224.0,1709.5) scale(1.07,1)" font-family="Liberation Sans, Arial, sans-serif" font-size="79" font-weight="normal" text-anchor="middle" fill="#000" >3.4</text>
<text transform="translate(424.1,177.3) scale(1.09,1)" font-family="Liberation Sans, Arial, sans-serif" font-size="78" font-weight="normal" text-anchor="middle" fill="#000" >97</text>
<text transform="translate(719.5,177.3) scale(1.09,1)" font-family="Liberation Sans, Arial, sans-serif" font-size="78" font-weight="normal" text-anchor="middle" fill="#000" >84</text>
<text transform="translate(1008.0,177.5) scale(1.09,1)" font-family="Liberation Sans, Arial, sans-serif" font-size="78" font-weight="normal" text-anchor="middle" fill="#000" >72</text>
<text transform="translate(1308.5,177.3) scale(1.09,1)" font-family="Liberation Sans, Arial, sans-serif" font-size="78" font-weight="normal" text-anchor="middle" fill="#000" >60</text>
<text transform="translate(1602.5,177.5) scale(1.09,1)" font-family="Liberation Sans, Arial, sans-serif" font-size="78" font-weight="normal" text-anchor="middle" fill="#000" >50</text>
<text transform="translate(1894.5,179.0) scale(1.09,1)" font-family="Liberation Sans, Arial, sans-serif" font-size="78" font-weight="normal" text-anchor="middle" fill="#000" >40</text>
<text transform="translate(2197.8,179.0) scale(1.09,1)" font-family="Liberation Sans, Arial, sans-serif" font-size="78" font-weight="normal" text-anchor="middle" fill="#000" >30</text>
<text transform="translate(1154,83.5) scale(1.04,1)" font-family="Liberation Sans, Arial, sans-serif" font-size="71" font-weight="bold">T<tspan font-weight="normal" font-size="69" stroke="#000" stroke-width="1.3">(</tspan><tspan font-size="33" dx="3.3" dy="-24.5">o</tspan><tspan dx="3" dy="24.5">C</tspan><tspan font-weight="normal" font-size="68" dx="1.5" stroke="#000" stroke-width="1.3">)</tspan></text>
<text transform="translate(1128,1845.5) scale(1.08,1)" font-family="Liberation Sans, Arial, sans-serif" font-size="75" font-weight="bold">1000/T <tspan font-weight="normal" dx="2" stroke="#000" stroke-width="1.3">(</tspan><tspan dx="1">K</tspan><tspan font-size="47" dx="0" dy="-36">-1</tspan><tspan dy="36" dx="0" font-weight="normal" stroke="#000" stroke-width="1.3">)</tspan></text>
<text transform="translate(105.5,1212) rotate(-90) scale(1,1.05)" font-family="Liberation Sans, Arial, sans-serif" font-size="84" font-weight="bold">log<tspan font-weight="normal" font-size="76" dx="-1" stroke="#000" stroke-width="1.3">&#963;</tspan><tspan font-weight="normal" dx="-3" stroke="#000" stroke-width="1.3"> (</tspan>Scm<tspan font-size="45" dy="-43">-1</tspan><tspan dy="43" dx="4" font-weight="normal" stroke="#000" stroke-width="1.3">)</tspan></text>
<text transform="translate(1680.0,282.5) scale(1.045,1)" font-family="Liberation Sans, Arial, sans-serif" font-size="51" font-weight="bold" text-anchor="start" fill="#000" >1</text>
<text transform="translate(1680,345.8) scale(1.045,1)" font-family="Liberation Sans, Arial, sans-serif" font-size="51" font-weight="bold">1<tspan stroke="#000" stroke-width="1.6">@</tspan>PSF</text>
<text transform="translate(1680.0,410.0) scale(1.045,1)" font-family="Liberation Sans, Arial, sans-serif" font-size="51" font-weight="bold" text-anchor="start" fill="#000" >PSF</text>
<text transform="translate(2018.0,271.0) scale(1.04,1)" font-family="Liberation Sans, Arial, sans-serif" font-size="43" font-weight="normal" text-anchor="start" fill="#262626" stroke="#262626" stroke-width="0.6">RH = 20%</text>
<text transform="translate(2018.0,320.8) scale(1.04,1)" font-family="Liberation Sans, Arial, sans-serif" font-size="43" font-weight="normal" text-anchor="start" fill="#262626" stroke="#262626" stroke-width="0.6">RH = 40%</text>
<text transform="translate(2018.0,370.6) scale(1.04,1)" font-family="Liberation Sans, Arial, sans-serif" font-size="43" font-weight="normal" text-anchor="start" fill="#262626" stroke="#262626" stroke-width="0.6">RH = 60%</text>
<text transform="translate(2018.0,420.4) scale(1.04,1)" font-family="Liberation Sans, Arial, sans-serif" font-size="43" font-weight="normal" text-anchor="start" fill="#262626" stroke="#262626" stroke-width="0.6">RH = 80%</text>
<text transform="translate(2018.0,470.2) scale(1.04,1)" font-family="Liberation Sans, Arial, sans-serif" font-size="43" font-weight="normal" text-anchor="start" fill="#262626" stroke="#262626" stroke-width="0.6">RH = 95%</text>
</g>
</svg>
</body></html>
